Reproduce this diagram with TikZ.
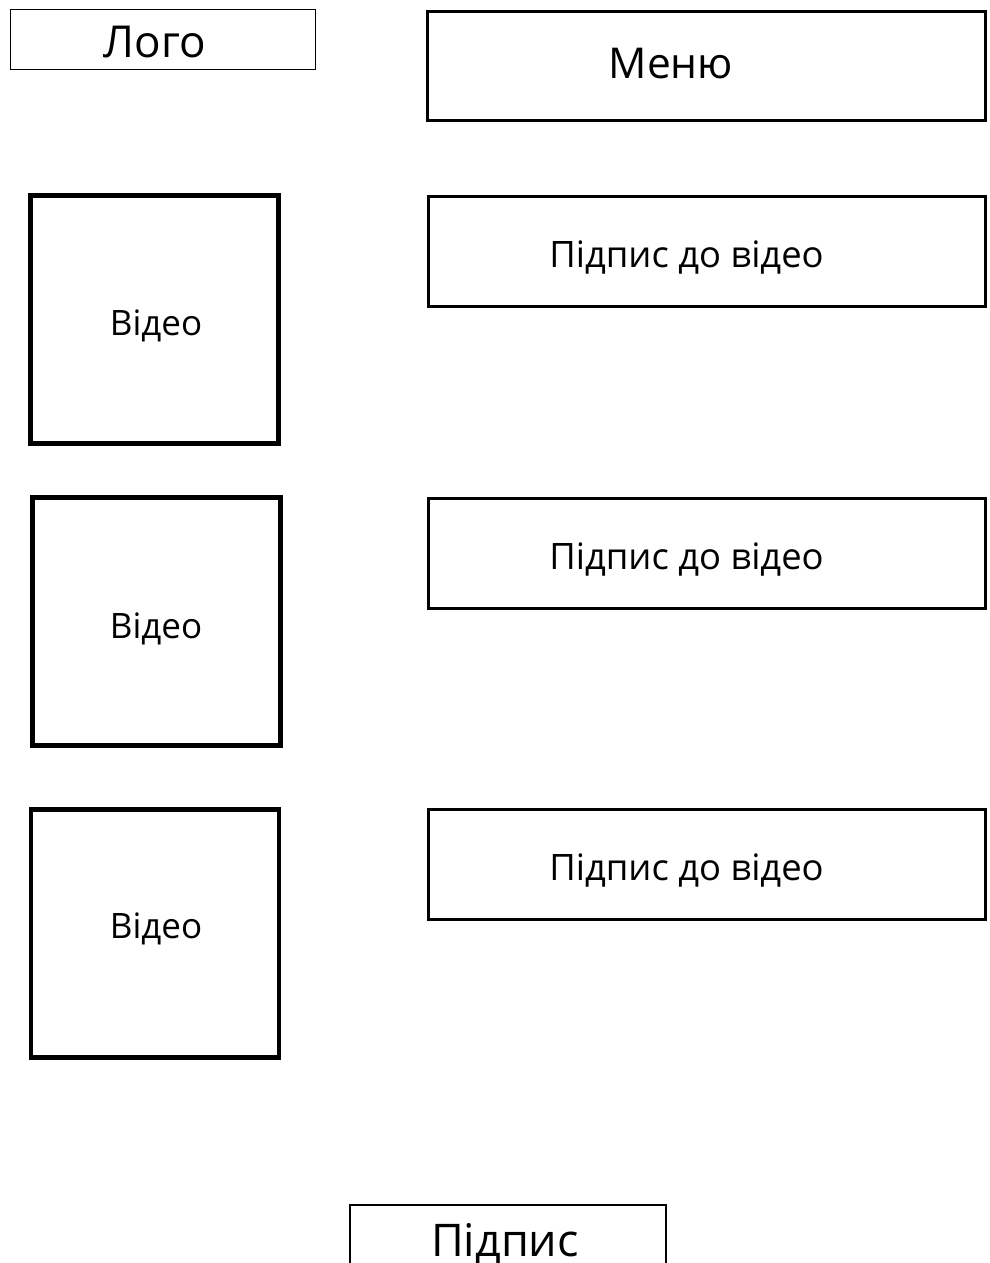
\documentclass[tikz,border=0pt]{standalone}
\usepackage{fontspec}
\setmainfont{Open Sans}
\begin{document}
\begin{tikzpicture}[x=1pt,y=-1pt,
  box/.style={draw=black,inner sep=0pt,fill=none},
  thinbox/.style={box,line width=1.3pt},
  midbox/.style={box,line width=3pt},
  vidbox/.style={box,line width=4.5pt,minimum width=248pt,minimum height=248pt},
  capbox/.style={midbox,minimum width=557pt,minimum height=110pt},
  lbl/.style={inner sep=0pt,anchor=base,text=black}]
\useasboundingbox (0,0) rectangle (989,1263);
\clip (0,0) rectangle (989,1263);
% header
\node[thinbox,minimum width=305pt,minimum height=60pt] (logo) at (163,39.5) {};
\node[lbl,font=\fontsize{44}{50}\selectfont] (logot) at (155,58) {Лого};
\node[midbox,minimum width=558pt,minimum height=109pt] (menu) at (706.5,66) {};
\node[lbl,font=\fontsize{42.5}{48}\selectfont] (menut) at (671,78) {Меню};
% videos
\node[vidbox] (v1) at (154.5,319.5) {};
\node[lbl,font=\fontsize{35}{40}\selectfont] (v1t) at (156,335) {Відео};
\node[vidbox] (v2) at (156.5,621.5) {};
\node[lbl,font=\fontsize{35}{40}\selectfont] (v2t) at (156,638) {Відео};
\node[vidbox] (v3) at (155,933.5) {};
\node[lbl,font=\fontsize{35}{40}\selectfont] (v3t) at (156,938) {Відео};
% captions
\node[capbox] (c1) at (707,251.5) {};
\node[lbl,font=\fontsize{36.4}{42}\selectfont] (c1t) at (686.5,267) {Підпис до відео};
\node[capbox] (c2) at (707,553.5) {};
\node[lbl,font=\fontsize{36.4}{42}\selectfont] (c2t) at (686.5,569) {Підпис до відео};
\node[capbox] (c3) at (707,864.5) {};
\node[lbl,font=\fontsize{36.4}{42}\selectfont] (c3t) at (686.5,880) {Підпис до відео};
% footer
\node[box,line width=2pt,minimum width=316pt,minimum height=80pt] (foot) at (507.5,1245) {};
\node[lbl,font=\fontsize{45}{52}\selectfont] (foott) at (505,1256) {Підпис};
\end{tikzpicture}
\end{document}
